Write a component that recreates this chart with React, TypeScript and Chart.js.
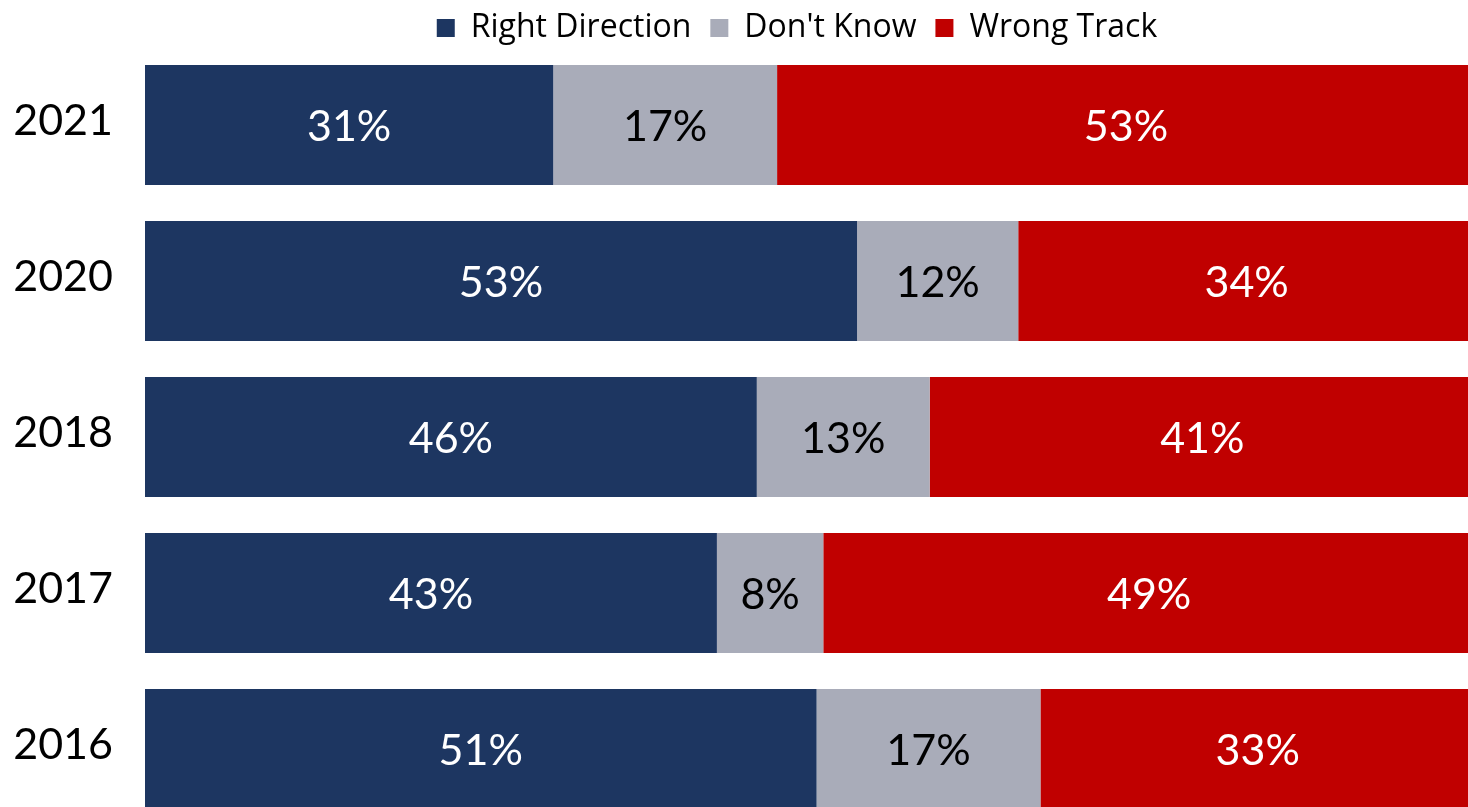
import React, { useEffect, useRef } from "react";
import { Chart, registerables } from "chart.js";

Chart.register(...registerables);

const years = ["2021", "2020", "2018", "2017", "2016"];
const rightDirection = [31, 53, 46, 43, 51];
const dontKnow = [17, 12, 13, 8, 17];
const wrongTrack = [53, 34, 41, 49, 33];
const seriesNames = ["Right Direction", "Don't Know", "Wrong Track"];
const seriesColors = ["#1D3661", "#A9ACB9", "#C00000"];
const labelColors = ["#FFFFFF", "#000000", "#FFFFFF"];

const LABEL_FONT = "Lato";
const LEGEND_FONT = "Open Sans";

export default function App() {
  const ref = useRef<HTMLCanvasElement | null>(null);

  useEffect(() => {
    document.body.style.margin = "0";
    document.body.style.overflow = "hidden";
    const raw = [rightDirection, dontKnow, wrongTrack];
    const totals = years.map((_, i) => raw.reduce((s, arr) => s + arr[i], 0));
    const datasets = raw.map((arr, k) => ({
      label: seriesNames[k],
      data: arr.map((v, i) => (v / totals[i]) * 100),
      rawValues: arr,
      backgroundColor: seriesColors[k],
      borderWidth: 0,
      barPercentage: 1,
      categoryPercentage: 120 / 156,
    }));

    const valueLabels = {
      id: "valueLabels",
      afterDatasetsDraw(chart: any) {
        const ctx = chart.ctx;
        ctx.save();
        ctx.font = `43px ${LABEL_FONT}`;
        ctx.textAlign = "center";
        ctx.textBaseline = "middle";
        chart.data.datasets.forEach((ds: any, k: number) => {
          const meta = chart.getDatasetMeta(k);
          meta.data.forEach((el: any, i: number) => {
            const cx = (el.x + el.base) / 2;
            ctx.fillStyle = labelColors[k];
            ctx.fillText(`${ds.rawValues[i]}%`, cx, el.y + 2);
          });
        });
        ctx.restore();
      },
    };

    const legendAdjust = {
      id: "legendAdjust",
      beforeUpdate(chart: any) {
        const lg = chart.legend;
        if (lg && !lg._tightened) {
          const orig = lg.fit.bind(lg);
          lg.fit = function () {
            orig();
            this.height -= 7;
          };
          lg._tightened = true;
        }
      },
      afterLayout(chart: any) {
        const lg = chart.legend;
        if (lg) {
          lg.left -= 13;
          lg.right -= 13;
        }
      },
    };

    const chart = new Chart(ref.current as HTMLCanvasElement, {
      type: "bar",
      data: { labels: years, datasets: datasets as any },
      options: {
        indexAxis: "y",
        animation: false,
        responsive: false,
        maintainAspectRatio: false,
        layout: { padding: 0 },
        plugins: {
          legend: {
            position: "top",
            align: "center",
            fullSize: false,
            labels: {
              font: { family: LEGEND_FONT, size: 32 },
              color: "#000000",
              boxWidth: 18,
              boxHeight: 18,
              padding: 19,
            },
          },
          tooltip: { enabled: false },
        },
        scales: {
          x: {
            stacked: true,
            min: 0,
            max: 100,
            display: false,
          },
          y: {
            stacked: true,
            grid: { display: false, drawTicks: false },
            border: { display: false },
            ticks: {
              font: { family: LABEL_FONT, size: 43 },
              color: "#000000",
              padding: 32,
              labelOffset: -4,
            },
            afterFit: (scale: any) => {
              scale.width = 145;
              scale.paddingTop = 0;
              scale.paddingBottom = 0;
            },
          },
        },
      },
      plugins: [valueLabels, legendAdjust],
    });
    return () => chart.destroy();
  }, []);

  return (
    <div style={{ position: "fixed", left: 0, top: -7, width: 1475, height: 834 }}>
      <canvas ref={ref} width={1475} height={834} style={{ width: 1475, height: 834, display: "block" }} />
    </div>
  );
}
